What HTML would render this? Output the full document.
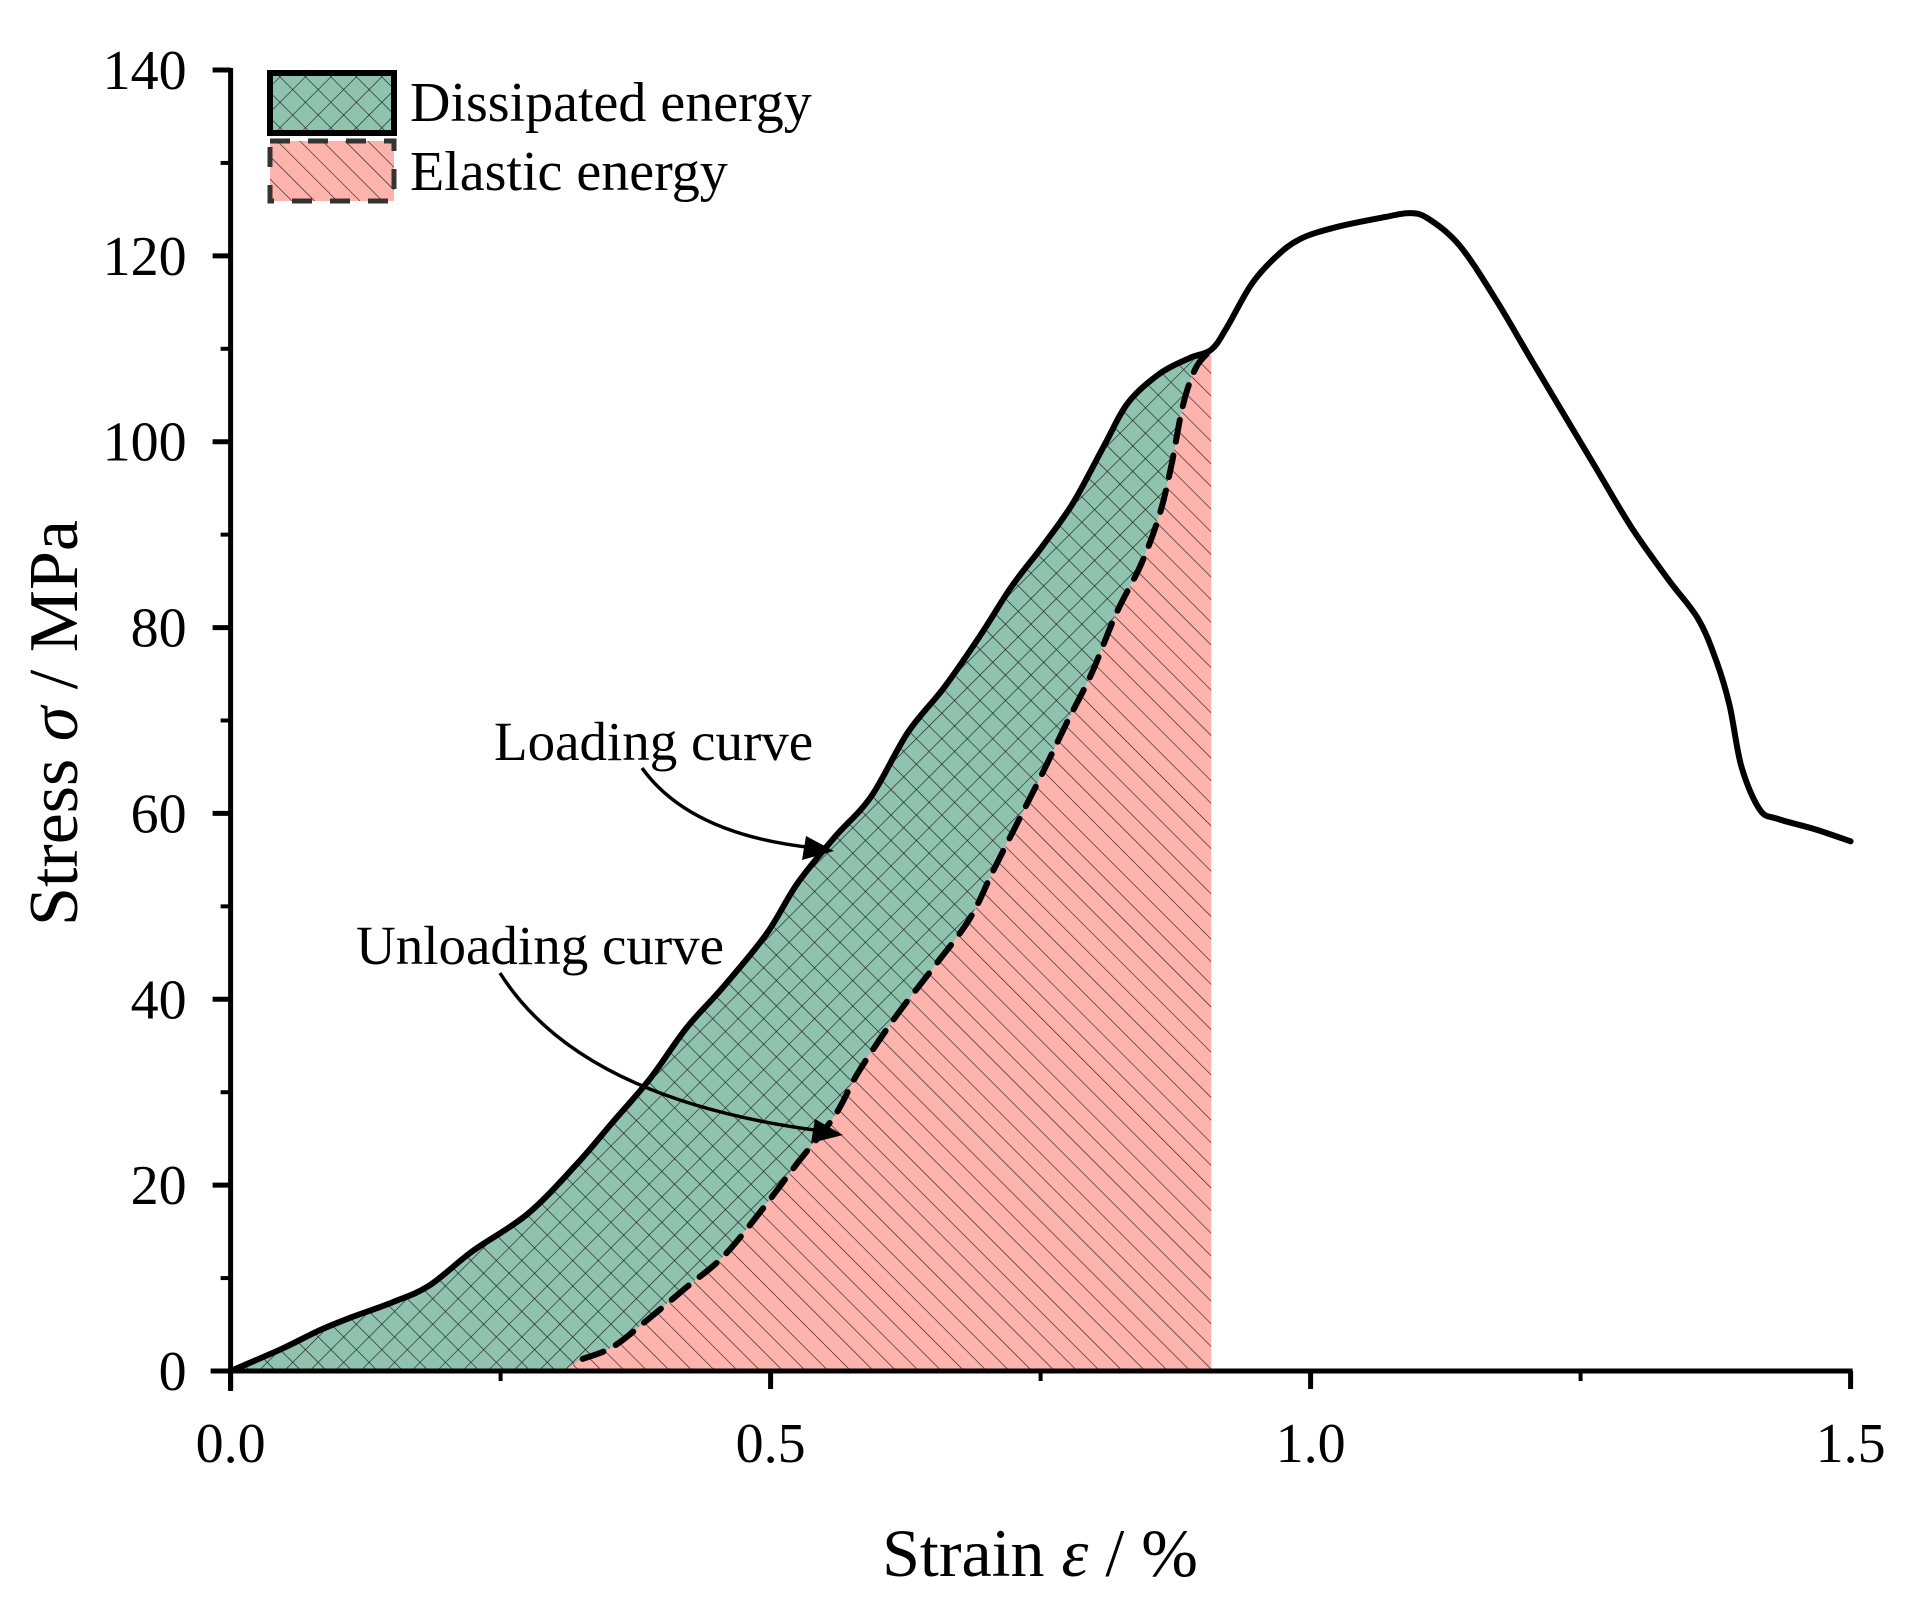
<!DOCTYPE html>
<html><head><meta charset="utf-8"><style>
html,body{margin:0;padding:0;background:#fff;}
svg{display:block;}
text{font-family:"Liberation Serif",serif;fill:#000;}
</style></head><body>
<svg id="chart" width="1922" height="1612" viewBox="0 0 1922 1612" xmlns="http://www.w3.org/2000/svg">
<defs>
<pattern id="cross" patternUnits="userSpaceOnUse" width="18" height="18" patternTransform="rotate(45)">
<rect width="18" height="18" fill="#8fc3b0"/>
<line x1="0" y1="0" x2="0" y2="18" stroke="#1a1a1a" stroke-width="1.2"/>
<line x1="0" y1="0" x2="18" y2="0" stroke="#1a1a1a" stroke-width="1.2"/>
</pattern>
<pattern id="diag" patternUnits="userSpaceOnUse" width="16" height="16" patternTransform="rotate(-45)">
<rect width="16" height="16" fill="#ffb3ad"/>
<line x1="0" y1="0" x2="0" y2="16" stroke="#1a1a1a" stroke-width="1.2"/>
</pattern>
</defs>
<g id="plot"></g>
</svg>
<script>
const loadStrain=[0,0.0477,0.0818,0.110,0.150,0.184,0.224,0.275,0.320,0.354,0.388,0.422,0.456,0.496,0.525,0.559,0.593,0.627,0.661,0.695,0.723,0.752,0.780,0.808,0.831,0.860,0.888,0.908,0.922,0.945,0.967,0.990,1.024,1.070,1.092,1.109,1.138,1.172,1.206,1.263,1.297,1.331,1.359,1.376,1.388,1.399,1.416,1.433,1.467,1.5];
const loadStress=[0,2.4,4.35,5.7,7.4,9.2,12.9,16.9,22.2,26.8,31.4,36.9,41.3,47.0,52.5,57.4,61.8,68.7,73.6,79.3,84.4,88.8,93.4,99.4,104.2,107.3,109.0,109.9,112.2,116.9,119.8,121.8,123.1,124.2,124.6,124.0,121.1,115.2,108.5,97.4,90.8,85.2,80.9,76.3,71.6,65.0,60.4,59.4,58.3,57.0];
const unloadStrain=[0.309,0.326,0.354,0.388,0.422,0.456,0.491,0.525,0.559,0.581,0.615,0.650,0.684,0.706,0.729,0.752,0.774,0.797,0.820,0.843,0.860,0.871,0.882,0.894,0.908];
const unloadStress=[0,1.3,2.6,5.7,9.0,12.3,17.2,22.4,27.4,32.1,38.0,43.3,48.6,53.8,59.1,64.4,69.7,75.0,81.5,86.8,92.1,97.4,104.0,108.0,109.9];
const xTicks=[0,0.5,1.0,1.5];
const xTickLabels=["0.0","0.5","1.0","1.5"];
const yTicks=[0,20,40,60,80,100,120,140];
const yTickLabels=["0","20","40","60","80","100","120","140"];

const X0=230.6,X1=1850.6,Y0=1371,Y1=70;
const xs=v=>X0+(v-0)/(1.5-0)*(X1-X0);
const ys=v=>Y0-(v-0)/(140-0)*(Y0-Y1);
const NS="http://www.w3.org/2000/svg";
const g=document.getElementById('plot');
function mk(tag,attrs,parent){const e=document.createElementNS(NS,tag);for(const k in attrs)e.setAttribute(k,attrs[k]);(parent||g).appendChild(e);return e;}
function smooth(pts,move){
  let d=(move?"M":"L")+pts[0][0]+","+pts[0][1];
  for(let i=0;i<pts.length-1;i++){
    const p0=pts[Math.max(0,i-1)],p1=pts[i],p2=pts[i+1],p3=pts[Math.min(pts.length-1,i+2)];
    const c1=[p1[0]+(p2[0]-p0[0])/6,p1[1]+(p2[1]-p0[1])/6];
    const c2=[p2[0]-(p3[0]-p1[0])/6,p2[1]-(p3[1]-p1[1])/6];
    d+=" C"+c1[0]+","+c1[1]+" "+c2[0]+","+c2[1]+" "+p2[0]+","+p2[1];
  }
  return d;
}

const nPeak=loadStrain.indexOf(0.908);
const peakStrain=unloadStrain[unloadStrain.length-1];
const unPts=unloadStrain.map((v,i)=>[xs(v),ys(unloadStress[i])]);
const loadPts=loadStrain.map((v,i)=>[xs(v),ys(loadStress[i])]);
const loadPre=loadPts.slice(0,nPeak+1);

let d="M"+xs(unloadStrain[0])+","+ys(0)+" "+smooth(unPts,false)+" L"+xs(peakStrain)+","+ys(0)+" Z";
let d2=smooth(loadPre,true)+" "+smooth(unPts.slice().reverse(),false)+" Z";
let e=mk('path',{d:d2,fill:'url(#cross)',stroke:'none'});


e=mk('path',{d:d,fill:'url(#diag)',stroke:'none'});



e=mk('path',{d:smooth(unPts.slice(1),true),fill:'none',stroke:'#000','stroke-width':6,'stroke-dasharray':'22,14','stroke-linejoin':'round','stroke-linecap':'round'});


e=mk('path',{d:smooth(loadPts,true),fill:'none',stroke:'#000','stroke-width':6,'stroke-linejoin':'round','stroke-linecap':'round'});



// axes
e=mk('line',{x1:X0,y1:Y0+20,x2:X0,y2:Y1-2,stroke:'#000','stroke-width':5});


e=mk('line',{x1:X0-20,y1:Y0,x2:X1+2,y2:Y0,stroke:'#000','stroke-width':5});


for(let i=0;i<yTicks.length;i++){
  const y=ys(yTicks[i]);
  e=mk('line',{x1:X0-18,y1:y,x2:X0,y2:y,stroke:'#000','stroke-width':5});
  
  
  if(i<yTicks.length-1){const ym=ys(yTicks[i]+10);
    e=mk('line',{x1:X0-10,y1:ym,x2:X0,y2:ym,stroke:'#000','stroke-width':4});
    
    }
  e=mk('text',{x:X0-44,y:y+19,'text-anchor':'end','font-size':56});
  e.textContent=yTickLabels[i];
  
  
}
for(let i=0;i<xTicks.length;i++){
  const x=xs(xTicks[i]);
  e=mk('line',{x1:x,y1:Y0,x2:x,y2:Y0+18,stroke:'#000','stroke-width':5});
  
  
  if(i<xTicks.length-1){const xm=xs(xTicks[i]+0.25);
    e=mk('line',{x1:xm,y1:Y0,x2:xm,y2:Y0+10,stroke:'#000','stroke-width':4});
    
    }
  e=mk('text',{x:x,y:1462,'text-anchor':'middle','font-size':56});
  e.textContent=xTickLabels[i];
  
  
}
e=mk('text',{x:1040,y:1576,'text-anchor':'middle','font-size':68});
e.innerHTML='Strain <tspan font-style="italic">ε</tspan> / %';


e=mk('text',{x:0,y:0,'text-anchor':'middle','font-size':70,transform:'translate(77,723) rotate(-90)'});
e.innerHTML='Stress <tspan font-style="italic">σ</tspan> / MPa';



e=mk('text',{x:494,y:760,'font-size':55});
e.textContent='Loading curve';


e=mk('text',{x:356,y:964,'font-size':55});
e.textContent='Unloading curve';


e=mk('path',{d:'M642,768 Q690,835 815,848',fill:'none',stroke:'#000','stroke-width':3.5});


e=mk('polygon',{points:'834,851 806,836 802,860',fill:'#000'});


e=mk('path',{d:'M500,973 Q580,1100 822,1131',fill:'none',stroke:'#000','stroke-width':3.5});


e=mk('polygon',{points:'843,1135 815,1119 811,1143',fill:'#000'});



const lg=mk('g',{});


e=mk('rect',{x:270,y:73,width:124,height:60,fill:'url(#cross)',stroke:'#000','stroke-width':6},lg);


e=mk('rect',{x:270,y:141,width:124,height:60,fill:'url(#diag)',stroke:'#333','stroke-width':5,'stroke-dasharray':'20,18'},lg);


e=mk('text',{x:410,y:121,'font-size':56},lg);
e.textContent='Dissipated energy';


e=mk('text',{x:410,y:190,'font-size':56},lg);
e.textContent='Elastic energy';


</script>
</body></html>
